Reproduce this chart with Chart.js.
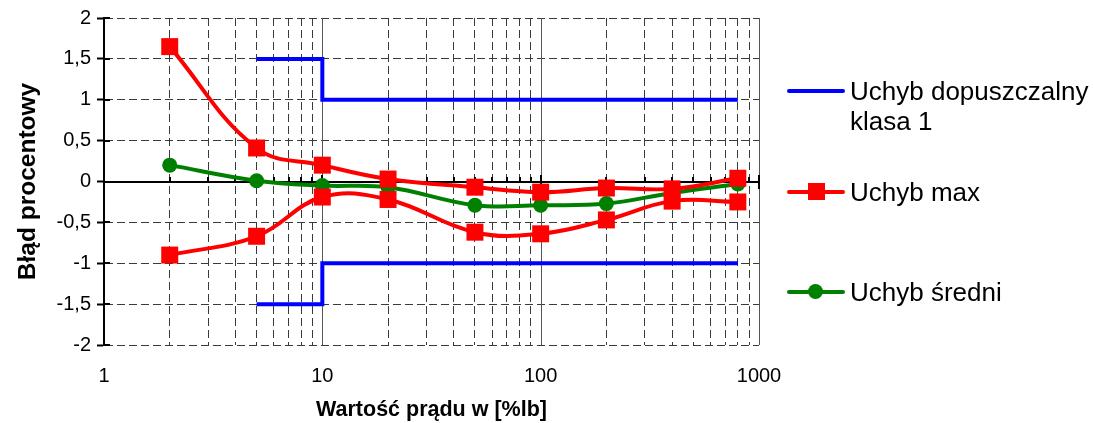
<!DOCTYPE html>
<html>
<head>
<meta charset="utf-8">
<script src="https://cdn.jsdelivr.net/npm/chart.js@4.4.1/dist/chart.umd.min.js"></script>
<style>
  body { margin: 0; background: #fff; }
  #wrap { position: relative; width: 1093px; height: 423px; }
  .leg { position: absolute; left: 0; top: 0; font-family: "Liberation Sans", Arial, sans-serif; font-size: 26px; line-height: 30px; color: #000; }
  .line { position: absolute; left: 787px; width: 58px; height: 4px; border-radius: 2px; }
  .mark { position: absolute; }
  .txt { position: absolute; left: 850px; white-space: nowrap; }
</style>
</head>
<body>
<div id="wrap">
  <canvas id="myChart" width="1093" height="423"></canvas>
  <div class="leg">
    <div class="line" style="top:89px;background:#0000ff"></div>
    <div class="txt" style="top:76px">Uchyb dopuszczalny<br>klasa 1</div>
    <div class="line" style="top:190px;background:#ff0000"></div>
    <div class="mark" style="left:808px;top:183px;width:17px;height:17px;background:#ff0000"></div>
    <div class="txt" style="top:177px">Uchyb max</div>
    <div class="line" style="top:290px;background:#008000"></div>
    <div class="mark" style="left:808px;top:284px;width:15px;height:15px;border-radius:50%;background:#008000"></div>
    <div class="txt" style="top:277px">Uchyb średni</div>
  </div>
</div>
<script>
// wartości
var current = [2, 5, 10, 20, 50, 100, 200, 400, 800];
var maxUpper = [1.65, 0.41, 0.2, 0.03, -0.07, -0.13, -0.08, -0.09, 0.04];
var maxLower = [-0.9, -0.67, -0.19, -0.22, -0.62, -0.64, -0.47, -0.24, -0.25];
var average = [0.2, 0.01, -0.05, -0.07, -0.29, -0.29, -0.27, -0.14, -0.03];

var limitX = [5, 10, 10, 800];
var limitUpper = [1.5, 1.5, 1, 1];
var limitLower = [-1.5, -1.5, -1, -1];

var xTicks = [1, 2, 3, 4, 5, 6, 7, 8, 9, 10, 20, 30, 40, 50, 60, 70, 80, 90,
              100, 200, 300, 400, 500, 600, 700, 800, 900, 1000];
var xMajor = [1, 10, 100, 1000];

function pts(xs, ys) {
    return xs.map(function (x, i) { return {x: x, y: ys[i]}; });
}

// dwie gałęzie w jednej serii, przerwa przez null
var maxData = pts(current, maxUpper).concat([{x: 800, y: null}], pts(current, maxLower));
var limitData = pts(limitX, limitUpper).concat([{x: 800, y: null}], pts(limitX, limitLower));

var axisPlugin = {
    id: 'axisPlugin',
    beforeDatasetsDraw: function (chart) {
        var ctx = chart.ctx, area = chart.chartArea;
        var x = chart.scales.x, y = chart.scales.y;
        ctx.save();
        // ciągłe linie dla dekad
        ctx.strokeStyle = '#555';
        ctx.lineWidth = 1;
        xMajor.slice(1).forEach(function (v) {
            var px = Math.round(x.getPixelForValue(v)) + 0.5;
            ctx.beginPath();
            ctx.moveTo(px, area.top);
            ctx.lineTo(px, area.bottom);
            ctx.stroke();
        });
        // oś zero
        var y0 = Math.round(y.getPixelForValue(0));
        ctx.strokeStyle = '#000';
        ctx.lineWidth = 2;
        ctx.beginPath();
        ctx.moveTo(area.left, y0);
        ctx.lineTo(area.right, y0);
        xTicks.forEach(function (v) {
            var px = Math.round(x.getPixelForValue(v));
            if (xMajor.indexOf(v) >= 0) {
                ctx.moveTo(px, y0 - 7);
                ctx.lineTo(px, y0 + 7);
            } else {
                ctx.moveTo(px, y0 - 5);
                ctx.lineTo(px, y0);
            }
        });
        // krótkie znaczniki po wewnętrznej stronie osi Y
        y.ticks.forEach(function (t) {
            var py = Math.round(y.getPixelForValue(t.value));
            ctx.moveTo(area.left, py);
            ctx.lineTo(area.left + 6, py);
        });
        ctx.stroke();
        ctx.restore();
    }
};

var ctx = document.getElementById('myChart').getContext('2d');

var myChart = new Chart(ctx, {
    type: 'line',
    data: {
        datasets: [
            {
                label: 'Uchyb dopuszczalny klasa 1',
                data: limitData,
                borderColor: '#0000ff',
                borderWidth: 4,
                pointRadius: 0,
                tension: 0
            },
            {
                label: 'Uchyb max',
                data: maxData,
                borderColor: '#ff0000',
                backgroundColor: '#ff0000',
                borderWidth: 4,
                pointStyle: 'rect',
                pointRadius: 12,
                pointBorderWidth: 0,
                tension: 0.4
            },
            {
                label: 'Uchyb średni',
                data: pts(current, average),
                borderColor: '#008000',
                backgroundColor: '#008000',
                borderWidth: 4,
                pointStyle: 'circle',
                pointRadius: 7.5,
                pointBorderWidth: 0,
                tension: 0.4
            }
        ]
    },
    options: {
        responsive: false,
        animation: false,
        events: [],
        layout: {padding: {left: 0, top: 18, right: 334, bottom: 0}},
        plugins: {legend: {display: false}, tooltip: {enabled: false}},
        scales: {
            x: {
                type: 'logarithmic',
                min: 1,
                max: 1000,
                afterBuildTicks: function (scale) {
                    scale.ticks = xTicks.map(function (v) { return {value: v}; });
                },
                afterFit: function (scale) { scale.height = 78; },
                ticks: {
                    autoSkip: false,
                    maxRotation: 0,
                    padding: 19,
                    color: '#000',
                    font: {family: 'Liberation Sans', size: 20},
                    callback: function (v) { return xMajor.indexOf(v) >= 0 ? String(v) : ''; }
                },
                grid: {
                    drawTicks: false,
                    lineWidth: 1,
                    color: function (c) {
                        return c.tick && xMajor.indexOf(c.tick.value) >= 0 ? 'rgba(0,0,0,0)' : '#3a3a3a';
                    }
                },
                border: {display: false, dash: [8, 4]},
                title: {
                    display: true,
                    text: 'Wartość prądu w [%lb]',
                    color: '#000',
                    padding: 0,
                    font: {family: 'Liberation Sans', size: 21.5, weight: 'bold'}
                }
            },
            y: {
                min: -2,
                max: 2,
                afterFit: function (scale) { scale.width = 104; },
                ticks: {
                    stepSize: 0.5,
                    padding: 6,
                    color: '#000',
                    font: {family: 'Liberation Sans', size: 20},
                    callback: function (v) { return String(v).replace('.', ','); }
                },
                grid: {
                    color: '#3a3a3a',
                    lineWidth: 1,
                    tickLength: 7,
                    tickColor: '#000',
                    tickWidth: 2
                },
                border: {display: true, color: '#000', width: 2, dash: [8, 4]},
                title: {
                    display: true,
                    text: 'Błąd procentowy',
                    color: '#000',
                    padding: {top: 14, bottom: 0},
                    font: {family: 'Liberation Sans', size: 24.5, weight: 'bold'}
                }
            }
        }
    },
    plugins: [axisPlugin]
});
</script>
</body>
</html>
